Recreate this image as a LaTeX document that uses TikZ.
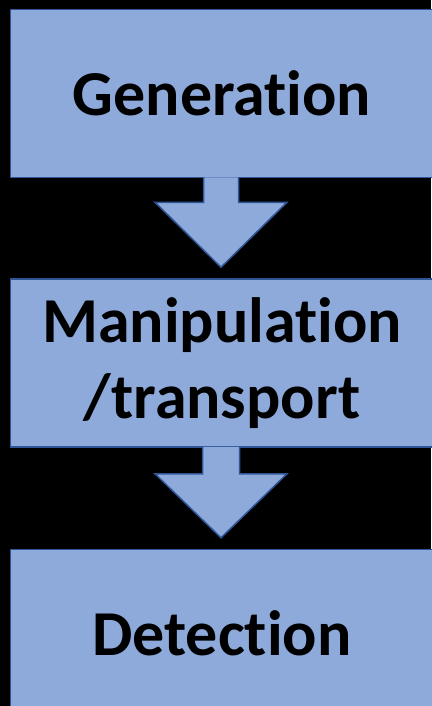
\documentclass[tikz,border=0pt]{standalone}
\usepackage{fontspec}
\setmainfont{Carlito}[Ligatures=NoCommon]
\usepackage{xcolor}
\usetikzlibrary{positioning,calc}

\definecolor{boxfill}{HTML}{8EAADB}
\definecolor{boxline}{HTML}{2F5597}

\begin{document}
\begin{tikzpicture}[
  x=1pt, y=1pt,
  node distance=100pt,
  box/.style={draw=boxline, fill=boxfill, line width=1.5pt, align=center,
              font=\fontsize{64}{76}\selectfont\bfseries, inner sep=0pt,
              minimum width=428pt, minimum height=168pt},
  blockarr/.style={draw=boxline, fill=boxfill, line width=1.5pt, line join=miter}
]
\fill[black] (0,0) rectangle (431,-706);
\useasboundingbox (0,0) rectangle (431,-706);

\node[box] (gen) at (224.5,-93.5) {\hspace*{-5pt}Generation};
\node[box, below=of gen] (man) {\hspace*{-5pt}Manipulation\\\hspace*{-5pt}/transport};
\node[box, below=101pt of man] (det) {\hspace*{-5pt}Detection};

% block arrows, open at the top so they merge with the box above
\filldraw[blockarr] ($(gen.south)+(-21,1)$) -- ++(0,-25) -- ++(-48.5,0)
  -- ($(man.north)+(-3.5,11)$) -- ($(gen.south)+(62.5,-24)$) -- ++(-48.5,0)
  -- ++(0,25);
\filldraw[blockarr] ($(man.south)+(-22,1)$) -- ++(0,-27) -- ++(-47.5,0)
  -- ($(det.north)+(-3.5,11)$) -- ($(man.south)+(62.5,-26)$) -- ++(-47.5,0)
  -- ++(0,27);
\end{tikzpicture}
\end{document}
